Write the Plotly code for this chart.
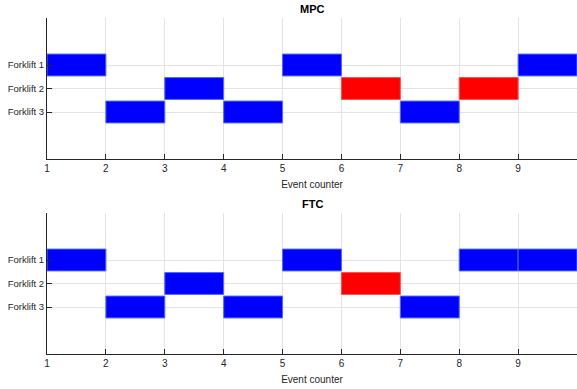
import plotly.graph_objects as go

# Data
forklift_labels = ["Forklift 1", "Forklift 2", "Forklift 3"]
x_ticks = [1, 2, 3, 4, 5, 6, 7, 8, 9]

# MPC schedule: (forklift index 1..3, start, end, state)
mpc_forklift = [1, 1, 1, 2, 2, 2, 3, 3, 3]
mpc_start =    [1, 5, 9, 3, 6, 8, 2, 4, 7]
mpc_end =      [2, 6, 10, 4, 7, 9, 3, 5, 8]
mpc_state =    ["ok", "ok", "ok", "ok", "fault", "fault", "ok", "ok", "ok"]

# FTC schedule
ftc_forklift = [1, 1, 1, 1, 2, 2, 3, 3, 3]
ftc_start =    [1, 5, 8, 9, 3, 6, 2, 4, 7]
ftc_end =      [2, 6, 9, 10, 4, 7, 3, 5, 8]
ftc_state =    ["ok", "ok", "ok", "ok", "ok", "fault", "ok", "ok", "ok"]

colors = {"ok": "#0000ff", "fault": "#ff0000"}
edge = {"ok": "#4d6bff", "fault": "#ff4d4d"}

W, H = 577, 389
fig = go.Figure()

def add_schedule(forklift, start, end, state, xa, ya):
    fig.add_trace(go.Bar(
        y=forklift,
        x=[e - s for s, e in zip(start, end)],
        base=start,
        orientation="h",
        width=0.93,
        marker=dict(color=[colors[s] for s in state],
                    line=dict(color=[edge[s] for s in state], width=1)),
        xaxis=xa, yaxis=ya, showlegend=False, hoverinfo="skip",
    ))

add_schedule(mpc_forklift, mpc_start, mpc_end, mpc_state, "x", "y")
add_schedule(ftc_forklift, ftc_start, ftc_end, ftc_state, "x2", "y2")

font = dict(family="Liberation Sans, Arial, sans-serif", size=10, color="#262626")

def px_domain(top, bottom):
    return [1 - bottom / H, 1 - top / H]

def py(y):
    return 1 - y / H

xcommon = dict(range=[1, 10], tickvals=x_ticks, ticks="inside", ticklen=5,
               tickcolor="#262626", showline=True, linecolor="#262626", linewidth=1,
               showgrid=True, gridcolor="#e3e3e3", gridwidth=1, zeroline=False,
               tickfont=font, domain=[0, 1],
               title=dict(text="Event counter", font=font, standoff=7))
ycommon = dict(range=[5, -1], tickvals=[1, 2, 3], ticktext=forklift_labels,
               ticks="inside", ticklen=5, tickcolor="#262626",
               showline=True, linecolor="#262626", linewidth=1,
               showgrid=True, gridcolor="#e3e3e3", gridwidth=1, zeroline=False,
               tickfont=dict(font, size=9.5))

fig.update_layout(
    width=W, height=H,
    margin=dict(l=47, r=0, t=0, b=0),
    plot_bgcolor="white", paper_bgcolor="white",
    barmode="overlay",
    xaxis=dict(**xcommon, anchor="y"),
    yaxis=dict(**ycommon, domain=px_domain(18, 159), anchor="x"),
    xaxis2=dict(**xcommon, anchor="y2"),
    yaxis2=dict(**ycommon, domain=px_domain(213, 354), anchor="x2"),
    font=font,
    annotations=[
        dict(text="<b>MPC</b>", x=0.5, y=py(9), xref="paper", yref="paper",
             xanchor="center", yanchor="middle", showarrow=False,
             font=dict(family=font["family"], size=11, color="black")),
        dict(text="<b>FTC</b>", x=0.5, y=py(204), xref="paper", yref="paper",
             xanchor="center", yanchor="middle", showarrow=False,
             font=dict(family=font["family"], size=11, color="black")),
    ],
)

fig.write_html("out.html", config={"displayModeBar": False},
               post_script="document.body.style.margin='0';")
